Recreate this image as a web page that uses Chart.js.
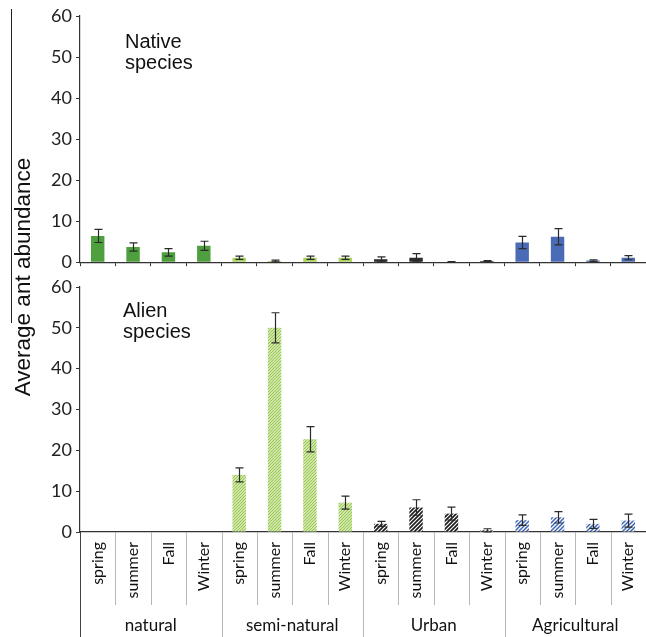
<!DOCTYPE html>
<html>
<head>
<meta charset="utf-8">
<script src="https://cdn.jsdelivr.net/npm/chart.js@4.4.1/dist/chart.umd.min.js"></script>
<style>
  html, body { margin: 0; padding: 0; background: #fff; }
  #wrap { position: relative; width: 646px; height: 637px; overflow: hidden; }
  #topChart { position: absolute; left: 0; top: 0; }
  #bottomChart { position: absolute; left: 0; top: 270px; }
  #ytitle {
    position: absolute; left: 23px; top: 277px;
    transform: translate(-50%, -50%) rotate(-90deg);
    font: 22.5px "Liberation Sans", Arial, sans-serif; color: #111; white-space: nowrap;
  }
  #bracket { position: absolute; left: 11px; top: 9px; height: 314px; border-left: 1.5px solid #222; }
</style>
</head>
<body>
<div id="wrap">
  <canvas id="topChart" width="646" height="277"></canvas>
  <canvas id="bottomChart" width="646" height="367"></canvas>
  <div id="bracket"></div>
  <div id="ytitle">Average ant abundance</div>
</div>
<script>
  const habitats = ['natural', 'semi-natural', 'Urban', 'Agricultural'];
  const seasons = ['spring', 'summer', 'Fall', 'Winter'];
  const labels = [];
  habitats.forEach(h => seasons.forEach(s => labels.push(s)));

  // native species: mean and error (+/-)
  const nativeValues = [6.4, 3.7, 2.4, 4.0,  1.1, 0.3, 1.1, 1.1,  0.7, 1.1, 0.1, 0.3,  4.8, 6.2, 0.4, 1.1];
  const nativeErrors = [1.6, 1.0, 0.9, 1.1,  0.4, 0.2, 0.4, 0.4,  0.6, 1.0, 0.05, 0.1, 1.5, 2.0, 0.2, 0.5];

  // alien species
  const alienValues = [0, 0, 0, 0,  14.0, 50.0, 22.7, 7.2,  2.0, 6.0, 4.5, 0.4,  2.9, 3.6, 2.0, 2.8];
  const alienErrors = [0, 0, 0, 0,  1.7, 3.7, 3.1, 1.6,  0.6, 1.9, 1.6, 0.4,  1.3, 1.4, 1.1, 1.6];

  const yTicks = [0, 10, 20, 30, 40, 50, 60];

  const solidColors = ['#4e9f3d', '#a9d35c', '#2b2b2b', '#4a6cb6'];

  function hatch(color, lw, size) {
    const c = document.createElement('canvas');
    c.width = size; c.height = size;
    const g = c.getContext('2d');
    g.fillStyle = '#fff';
    g.fillRect(0, 0, size, size);
    g.strokeStyle = color;
    g.lineWidth = lw;
    g.beginPath();
    g.moveTo(-1, size + 1); g.lineTo(size + 1, -1);
    g.moveTo(-1, 1); g.lineTo(1, -1);
    g.moveTo(size - 1, size + 1); g.lineTo(size + 1, size - 1);
    g.stroke();
    return g.createPattern(c, 'repeat');
  }
  const hatchColors = [
    hatch('#4e9f3d', 1.3, 3),
    hatch('#98c84a', 1.3, 3),
    hatch('#1e1e1e', 1.7, 4),
    hatch('#3e64b4', 1.5, 4)
  ];

  const errorBars = {
    id: 'errorBars',
    afterDatasetsDraw(chart, args, opts) {
      const ctx = chart.ctx;
      const y = chart.scales.y;
      const meta = chart.getDatasetMeta(0);
      const vals = chart.data.datasets[0].data;
      ctx.save();
      ctx.strokeStyle = '#2a2a2a';
      ctx.lineWidth = 1.2;
      meta.data.forEach((bar, i) => {
        const e = opts.errors[i];
        if (!e) return;
        const x = Math.round(bar.x) + 0.5;
        const hi = y.getPixelForValue(vals[i] + e);
        const lo = y.getPixelForValue(Math.max(0, vals[i] - e));
        ctx.beginPath();
        ctx.moveTo(x, hi); ctx.lineTo(x, lo);
        ctx.moveTo(x - 4, hi); ctx.lineTo(x + 4, hi);
        ctx.moveTo(x - 4, lo); ctx.lineTo(x + 4, lo);
        ctx.stroke();
      });
      ctx.restore();
    }
  };

  const panelLabel = {
    id: 'panelLabel',
    afterDraw(chart, args, opts) {
      const ctx = chart.ctx;
      ctx.save();
      ctx.fillStyle = '#111';
      ctx.font = '20px "Liberation Sans", Arial, sans-serif';
      ctx.textBaseline = 'alphabetic';
      opts.lines.forEach((t, i) => ctx.fillText(t, opts.x, opts.y + i * 21));
      ctx.restore();
    }
  };

  const groupAxis = {
    id: 'groupAxis',
    afterDraw(chart) {
      const ctx = chart.ctx;
      const x = chart.scales.x;
      const bottom = chart.chartArea.bottom;
      const H = chart.height;
      const half = (x.getPixelForValue(1) - x.getPixelForValue(0)) / 2;
      ctx.save();
      ctx.strokeStyle = '#b8b8b8';
      ctx.lineWidth = 1;
      for (let i = 1; i < labels.length; i++) {
        const px = Math.round(x.getPixelForValue(i) - half) + 0.5;
        ctx.beginPath();
        ctx.moveTo(px, bottom);
        ctx.lineTo(px, i % 4 === 0 ? H : bottom + 73);
        ctx.stroke();
      }
      ctx.strokeStyle = '#444';
      ctx.beginPath();
      ctx.moveTo(x.left + 0.5, bottom);
      ctx.lineTo(x.left + 0.5, H);
      ctx.stroke();
      ctx.fillStyle = '#111';
      ctx.font = '17px Lato, sans-serif';
      ctx.textAlign = 'center';
      ctx.textBaseline = 'middle';
      habitats.forEach((h, k) => {
        const cx = (x.getPixelForValue(4 * k + 1) + x.getPixelForValue(4 * k + 2)) / 2;
        ctx.fillText(h, cx, H - 11);
      });
      ctx.restore();
    }
  };

  function makeChart(id, values, errors, colors, opts) {
    return new Chart(document.getElementById(id), {
      type: 'bar',
      data: {
        labels: labels,
        datasets: [{
          data: values,
          backgroundColor: values.map((v, i) => colors[Math.floor(i / 4)]),
          borderWidth: 0,
          barPercentage: 0.38,
          categoryPercentage: 1
        }]
      },
      options: {
        responsive: false,
        animation: false,
        layout: { padding: { top: opts.padTop, left: 0, right: 0, bottom: 0 } },
        plugins: {
          legend: { display: false },
          tooltip: { enabled: false },
          errorBars: { errors: errors },
          panelLabel: opts.label
        },
        scales: {
          x: {
            offset: true,
            border: { color: '#333', width: 1.2 },
            grid: {
              offset: true, drawOnChartArea: false,
              drawTicks: opts.showLabels ? false : true,
              tickLength: 4, color: '#333'
            },
            ticks: {
              display: opts.showLabels,
              autoSkip: false,
              minRotation: 90, maxRotation: 90,
              padding: 10,
              color: '#111',
              font: { family: 'Lato, sans-serif', size: 16 }
            },
            afterFit: s => {
              s.height = opts.xHeight;
              s.paddingLeft = 0;
              s.paddingRight = 0;
            }
          },
          y: {
            min: 0, max: 60,
            afterBuildTicks: s => { s.ticks = yTicks.map(v => ({ value: v })); },
            border: { color: '#333', width: 1.2 },
            grid: { drawOnChartArea: false, drawTicks: true, tickLength: 4, color: '#333' },
            ticks: {
              padding: 4,
              color: '#222',
              font: { family: 'Lato, sans-serif', size: 18 }
            },
            afterFit: s => { s.width = 80; }
          }
        }
      },
      plugins: opts.showLabels ? [errorBars, panelLabel, groupAxis] : [errorBars, panelLabel]
    });
  }

  makeChart('topChart', nativeValues, nativeErrors, solidColors, {
    padTop: 16, xHeight: 8, showLabels: false,
    label: { lines: ['Native', 'species'], x: 125, y: 48 }
  });

  makeChart('bottomChart', alienValues, alienErrors, hatchColors, {
    padTop: 17, xHeight: 105, showLabels: true,
    label: { lines: ['Alien', 'species'], x: 123, y: 47 }
  });
</script>
</body>
</html>
